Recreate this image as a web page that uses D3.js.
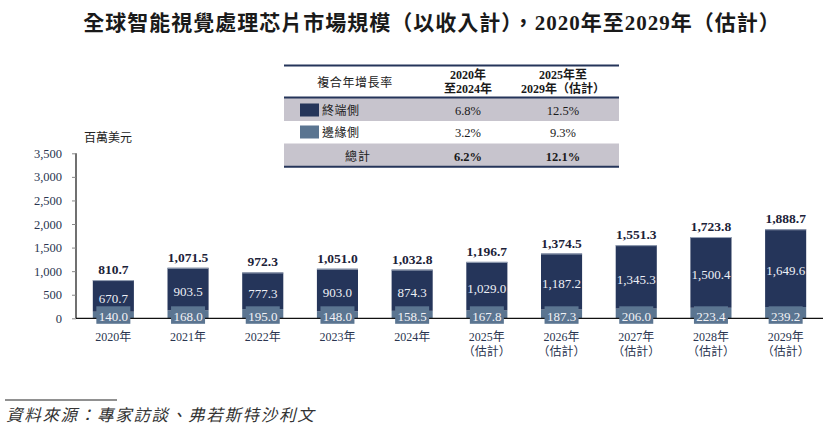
<!DOCTYPE html>
<html><head><meta charset="utf-8">
<script src="https://cdn.jsdelivr.net/npm/d3@7/dist/d3.min.js"></script>
<style>
html,body{margin:0;padding:0;background:#fff;}
svg{display:block;}
</style></head>
<body>
<svg id="c" width="830" height="434"></svg>
<script>
const years = ["2020年","2021年","2022年","2023年","2024年","2025年","2026年","2027年","2028年","2029年"];
const subLabels = ["","","","","","（估計）","（估計）","（估計）","（估計）","（估計）"];
const terminal = [670.7, 903.5, 777.3, 903.0, 874.3, 1029.0, 1187.2, 1345.3, 1500.4, 1649.6];
const edge = [140.0, 168.0, 195.0, 148.0, 158.5, 167.8, 187.3, 206.0, 223.4, 239.2];
const total = [810.7, 1071.5, 972.3, 1051.0, 1032.8, 1196.7, 1374.5, 1551.3, 1723.8, 1888.7];
const yTicks = [0, 500, 1000, 1500, 2000, 2500, 3000, 3500];

const tableHeader = ["複合年增長率", ["2020年","至2024年"], ["2025年至","2029年（估計）"]];
const tableRowNames = ["終端側", "邊緣側", "總計"];
const cagr2020_2024 = ["6.8%", "3.2%", "6.2%"];
const cagr2025_2029 = ["12.5%", "9.3%", "12.1%"];

const title = "全球智能視覺處理芯片市場規模（以收入計），2020年至2029年（估計）";
const unitLabel = "百萬美元";
const source = "資料來源：專家訪談、弗若斯特沙利文";

const C_DARK = "#25355a", C_EDGE = "#5b7591", C_GRAY = "#c7c4cd", C_TXT = "#2a3550";
const FONT = "'Liberation Serif','Noto Sans CJK TC',serif";
const fmt = d3.format(",.1f");

const svg = d3.select("#c").style("font-family", FONT);

// title
svg.append("text").attr("x", 432).attr("y", 30).attr("text-anchor", "middle")
  .attr("font-size", 21).attr("letter-spacing", 1).attr("font-weight", "bold").attr("fill", "#1a1a1a").text(title);

// scales
const x = d3.scaleBand().domain(years).range([76, 823]).paddingInner(0.45).paddingOuter(0.225);
const y = d3.scaleLinear().domain([0, 3500]).range([318.3, 153.3]);

// y axis
const yAxis = svg.append("g").attr("transform", "translate(76,0)")
  .call(d3.axisLeft(y).tickValues(yTicks).tickSize(4).tickPadding(10).tickFormat(d3.format(",")));
yAxis.select(".domain").attr("stroke", "#111").attr("stroke-width", 1.2).attr("d", `M0,${y(3500)}V${y(0)}`);
yAxis.selectAll(".tick line").attr("stroke", "#888");
yAxis.selectAll(".tick text").attr("font-size", 12.5).attr("fill", C_TXT).attr("font-family", FONT);

svg.append("text").attr("x", 84).attr("y", 142).attr("font-size", 12).attr("fill", "#222").text(unitLabel);

const idx = d3.range(years.length);
const bw = x.bandwidth();

// edge segments (bottom)
svg.append("g").selectAll("rect").data(idx).join("rect")
  .attr("x", i => x(years[i])).attr("width", bw)
  .attr("y", i => y(edge[i])).attr("height", i => y(0) - y(edge[i]))
  .attr("fill", C_EDGE);
// terminal segments (top)
svg.append("g").selectAll("rect").data(idx).join("rect")
  .attr("x", i => x(years[i])).attr("width", bw)
  .attr("y", i => y(edge[i] + terminal[i])).attr("height", i => y(edge[i]) - y(edge[i] + terminal[i]))
  .attr("fill", C_DARK);
// top highlight line
svg.append("g").selectAll("line").data(idx).join("line")
  .attr("x1", i => x(years[i])).attr("x2", i => x(years[i]) + bw)
  .attr("y1", i => y(total[i]) + 0.5).attr("y2", i => y(total[i]) + 0.5)
  .attr("stroke", "#9aa5b8").attr("stroke-width", 1);

// x axis line
svg.append("line").attr("x1", 76).attr("x2", 823).attr("y1", y(0)).attr("y2", y(0))
  .attr("stroke", "#111").attr("stroke-width", 1.3);

// edge label boxes
const boxW = 34;
svg.append("g").selectAll("rect").data(idx).join("rect")
  .attr("x", i => x(years[i]) + bw / 2 - boxW / 2).attr("width", boxW)
  .attr("y", y(0) - 12).attr("height", 17.5).attr("fill", C_EDGE);
svg.append("g").selectAll("text").data(idx).join("text")
  .attr("x", i => x(years[i]) + bw / 2).attr("y", y(0) + 3)
  .attr("text-anchor", "middle").attr("font-size", 13).attr("fill", "#f2f2f6")
  .text(i => fmt(edge[i]));

// terminal labels
svg.append("g").selectAll("text").data(idx).join("text")
  .attr("x", i => x(years[i]) + bw / 2)
  .attr("y", i => (y(edge[i]) + y(edge[i] + terminal[i])) / 2 + 7)
  .attr("text-anchor", "middle").attr("font-size", 13).attr("fill", "#eef0f6")
  .text(i => fmt(terminal[i]));

// total labels
svg.append("g").selectAll("text").data(idx).join("text")
  .attr("x", i => x(years[i]) + bw / 2).attr("y", i => y(total[i]) - 6)
  .attr("text-anchor", "middle").attr("font-size", 13.5).attr("font-weight", "bold").attr("fill", "#1c2238")
  .text(i => fmt(total[i]));

// x labels
svg.append("g").selectAll("text").data(idx).join("text")
  .attr("x", i => x(years[i]) + bw / 2).attr("y", 341)
  .attr("text-anchor", "middle").attr("font-size", 12).attr("fill", C_TXT)
  .text(i => years[i]);
svg.append("g").selectAll("text").data(idx).join("text")
  .attr("x", i => x(years[i]) + bw / 2).attr("y", 356)
  .attr("text-anchor", "middle").attr("font-size", 12).attr("fill", C_TXT)
  .text(i => subLabels[i]);

// table
const T = svg.append("g");
const tx0 = 284, tx1 = 619;
const rowY = [98, 121, 143.5, 166.7];
T.append("rect").attr("x", tx0).attr("y", rowY[0]).attr("width", tx1 - tx0).attr("height", rowY[1] - rowY[0]).attr("fill", C_GRAY);
T.append("rect").attr("x", tx0).attr("y", rowY[2]).attr("width", tx1 - tx0).attr("height", rowY[3] - rowY[2]).attr("fill", C_GRAY);
[65.5, 97.5, 166.8].forEach(yy => T.append("line").attr("x1", tx0).attr("x2", tx1).attr("y1", yy).attr("y2", yy)
  .attr("stroke", C_DARK).attr("stroke-width", 2));
const colX = [355, 468, 563];
T.append("text").attr("x", colX[0]).attr("y", 87).attr("text-anchor", "middle").attr("font-size", 12)
  .attr("letter-spacing", 0.6).attr("fill", "#222").text(tableHeader[0]);
[1, 2].forEach(c => {
  tableHeader[c].forEach((t, k) => T.append("text").attr("x", colX[c]).attr("y", 79 + k * 13.5)
    .attr("text-anchor", "middle").attr("font-size", 12).attr("font-weight", "bold").attr("fill", "#1a1a1a").text(t));
});
const rowC = [110, 132, 156];
const swatch = [C_DARK, C_EDGE];
[0, 1].forEach(r => {
  T.append("rect").attr("x", 300).attr("y", rowC[r] - 6.5).attr("width", 19).attr("height", 13).attr("fill", swatch[r]);
  T.append("text").attr("x", 322).attr("y", rowC[r] + 4.5).attr("font-size", 12).attr("letter-spacing", 0.5)
    .attr("fill", "#222").text(tableRowNames[r]);
});
T.append("text").attr("x", 358).attr("y", rowC[2] + 4.5).attr("text-anchor", "middle").attr("font-size", 12)
  .attr("letter-spacing", 1).attr("fill", "#222").text(tableRowNames[2]);
[0, 1, 2].forEach(r => {
  const bold = r === 2 ? "bold" : "normal";
  T.append("text").attr("x", colX[1]).attr("y", rowC[r] + 4.5).attr("text-anchor", "middle").attr("font-size", 12.5)
    .attr("font-weight", bold).attr("fill", "#1a1a1a").text(cagr2020_2024[r]);
  T.append("text").attr("x", colX[2]).attr("y", rowC[r] + 4.5).attr("text-anchor", "middle").attr("font-size", 12.5)
    .attr("font-weight", bold).attr("fill", "#1a1a1a").text(cagr2025_2029[r]);
});

// source
svg.append("line").attr("x1", 5).attr("x2", 117).attr("y1", 400).attr("y2", 400).attr("stroke", "#222").attr("stroke-width", 1);
svg.append("text").attr("x", 6).attr("y", 421).attr("font-size", 16.5).attr("font-style", "italic")
  .attr("letter-spacing", 1.7).attr("fill", "#333").text(source);
</script>
</body></html>
